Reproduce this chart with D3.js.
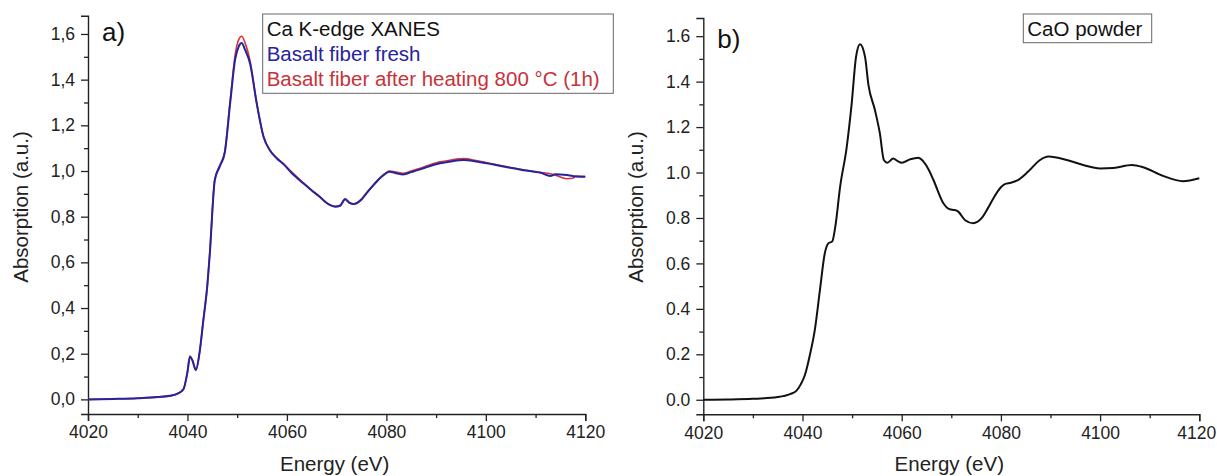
<!DOCTYPE html>
<html>
<head>
<meta charset="utf-8">
<script src="https://cdn.jsdelivr.net/npm/d3@7"></script>
<style>
  body { margin: 0; background: #fff; }
  svg { font-family: "Liberation Sans", Arial, sans-serif; }
</style>
</head>
<body>
<svg id="chart" width="1217" height="476"></svg>
<script>
// Panel a: Ca K-edge XANES of basalt fibers
const energyA = [4020, 4025, 4030, 4034, 4036.5, 4038, 4039.2, 4040, 4040.5, 4041, 4041.7, 4042.4, 4043.2, 4044, 4044.5,
  4045.5, 4046.5, 4047.5, 4048.6, 4049.6, 4050.3, 4050.9, 4051.6, 4052.6, 4053.9, 4055.3, 4056.6, 4058, 4059.3, 4061,
  4063.3, 4065, 4066.6, 4068, 4069.7, 4070.7, 4071.7, 4072.5, 4073.4, 4075, 4076, 4077.5, 4078.7, 4080.7, 4082, 4083.4,
  4085, 4086.8, 4088.5, 4090.8, 4093, 4095.5, 4098, 4100.2, 4103, 4105.5, 4108, 4110.9, 4113, 4114, 4116.3, 4117.5, 4118, 4120];
const fresh = [0.0, 0.002, 0.005, 0.01, 0.016, 0.025, 0.045, 0.12, 0.187, 0.17, 0.128, 0.2, 0.347, 0.5, 0.64,
  0.96, 1.02, 1.08, 1.30, 1.49, 1.545, 1.56, 1.53, 1.47, 1.30, 1.15, 1.09, 1.055, 1.03, 0.99,
  0.946, 0.915, 0.887, 0.86, 0.844, 0.848, 0.876, 0.862, 0.855, 0.875, 0.902, 0.94, 0.968, 0.997, 0.99, 0.985,
  0.995, 1.007, 1.02, 1.034, 1.042, 1.048, 1.042, 1.034, 1.022, 1.012, 1.002, 0.993, 0.978, 0.986, 0.982, 0.978, 0.976, 0.975];
const heated = [0.0, 0.002, 0.005, 0.01, 0.016, 0.025, 0.045, 0.12, 0.19, 0.172, 0.13, 0.2, 0.35, 0.5, 0.645,
  0.965, 1.025, 1.085, 1.31, 1.51, 1.575, 1.59, 1.56, 1.48, 1.30, 1.15, 1.09, 1.055, 1.032, 0.995,
  0.948, 0.915, 0.887, 0.86, 0.845, 0.85, 0.878, 0.862, 0.856, 0.877, 0.905, 0.942, 0.97, 1.0, 0.995, 0.99,
  1.0, 1.012, 1.025, 1.04, 1.048, 1.054, 1.046, 1.036, 1.024, 1.013, 1.003, 0.994, 0.988, 0.982, 0.966, 0.968, 0.978, 0.976];
const legendA = ['Ca K-edge XANES', 'Basalt fiber fresh', 'Basalt fiber after heating 800 °C (1h)'];

// Panel b: CaO powder reference
const energyB = [4020, 4025, 4030, 4035, 4037.5, 4038.8, 4039.7, 4040.5, 4041.5, 4042.5, 4043.5, 4044.5, 4045.2, 4046,
  4046.6, 4047.6, 4048.9, 4049.9, 4050.8, 4051.6, 4052.6, 4053.3, 4054.6, 4055.6, 4056.4, 4057.1, 4058.3, 4059.2, 4060,
  4061.7, 4063.3, 4064.4, 4065.5, 4066.4, 4068.4, 4069.7, 4070.7, 4071.4, 4072.8, 4074.4, 4076.1, 4077.3, 4078.5, 4080,
  4080.8, 4082, 4083.2, 4085.5, 4087.9, 4089.6, 4093.3, 4096.6, 4100, 4102.7, 4106.4, 4108.7, 4112.7, 4116.7, 4120];
const caoPowder = [0, 0.001, 0.004, 0.012, 0.025, 0.04, 0.07, 0.11, 0.198, 0.31, 0.48, 0.645, 0.688, 0.697,
  0.76, 0.94, 1.11, 1.30, 1.51, 1.565, 1.51, 1.385, 1.275, 1.172, 1.055, 1.043, 1.062, 1.05, 1.043,
  1.058, 1.065, 1.048, 1.01, 0.967, 0.865, 0.838, 0.835, 0.828, 0.79, 0.777, 0.799, 0.84, 0.887, 0.935,
  0.949, 0.955, 0.964, 1.004, 1.055, 1.07, 1.055, 1.033, 1.018, 1.02, 1.033, 1.023, 0.985, 0.962, 0.975];
const legendB = ['CaO powder'];

const xTicks = [4020, 4040, 4060, 4080, 4100, 4120];
const xMinor = [4030, 4050, 4070, 4090, 4110];
const yTicks = [0, 0.2, 0.4, 0.6, 0.8, 1.0, 1.2, 1.4, 1.6];
const yMinor = [0.1, 0.3, 0.5, 0.7, 0.9, 1.1, 1.3, 1.5];

const svg = d3.select('#chart');
const svgWidth = 1217;

function drawPanel(opts) {
  const x = d3.scaleLinear().domain([4020, 4120]).range(opts.xRange);
  const y = d3.scaleLinear().domain([-0.064, 1.68]).range(opts.yRange);
  const g = svg.append('g');
  const comma = opts.comma;
  const fmt = d => {
    const s = d3.format('.1f')(d);
    return comma ? s.replace('.', ',') : s;
  };

  // minor ticks
  g.append('g').attr('transform', `translate(0,${opts.yRange[0]})`)
    .call(d3.axisBottom(x).tickValues(xMinor).tickSize(4).tickFormat(''))
    .call(a => a.select('.domain').remove());
  g.append('g').attr('transform', `translate(${opts.xRange[0]},0)`)
    .call(d3.axisLeft(y).tickValues(yMinor).tickSize(4).tickFormat(''))
    .call(a => a.select('.domain').remove());

  // major axes
  const xAxis = g.append('g').attr('transform', `translate(0,${opts.yRange[0]})`)
    .call(d3.axisBottom(x).tickValues(xTicks).tickSizeOuter(0).tickSize(7).tickPadding(5).tickFormat(d3.format('d')));
  const yAxis = g.append('g').attr('transform', `translate(${opts.xRange[0]},0)`)
    .call(d3.axisLeft(y).tickValues(yTicks).tickSizeOuter(0).tickSize(7).tickPadding(6).tickFormat(fmt));
  [xAxis, yAxis].forEach(a => {
    a.selectAll('text').attr('font-size', 17.5).attr('fill', '#222');
    a.select('.domain').attr('stroke', '#222').attr('stroke-width', 1.4);
  });
  g.selectAll('line').attr('stroke', '#222').attr('stroke-width', 1.3);

  // keep the last tick label inside the page
  xAxis.selectAll('.tick text').each(function() {
    const box = this.getBBox();
    const tickX = x(+d3.select(this.parentNode).datum());
    const right = tickX + box.x + box.width;
    if (right > svgWidth - 1) d3.select(this).attr('dx', svgWidth - 1 - right);
  });

  // axis titles
  g.append('text')
    .attr('x', (opts.xRange[0] + opts.xRange[1]) / 2 - 2)
    .attr('y', 471)
    .attr('text-anchor', 'middle')
    .attr('font-size', 20.5)
    .attr('fill', '#222')
    .text('Energy (eV)');
  g.append('text')
    .attr('transform', `translate(${opts.yLabelX},207) rotate(-90)`)
    .attr('text-anchor', 'middle')
    .attr('font-size', 20.5)
    .attr('fill', '#222')
    .text('Absorption (a.u.)');

  // panel letter
  g.append('text')
    .attr('x', opts.xRange[0] + 14)
    .attr('y', opts.letterY)
    .attr('font-size', 26)
    .attr('fill', '#111')
    .text(opts.letter);

  // curves
  opts.series.forEach(s => {
    const pts = opts.energy.map((e, i) => [e, s.values[i]]);
    g.append('path')
      .datum(pts)
      .attr('fill', 'none')
      .attr('stroke', s.color)
      .attr('stroke-width', s.width)
      .attr('stroke-linejoin', 'round')
      .attr('d', d3.line().x(d => x(d[0])).y(d => y(d[1])).curve(d3.curveMonotoneX));
  });

  // legend
  const lg = g.append('g');
  lg.append('rect')
    .attr('x', opts.legend.x).attr('y', opts.legend.y)
    .attr('width', opts.legend.w).attr('height', opts.legend.h)
    .attr('fill', '#fff').attr('stroke', '#666').attr('stroke-width', 1);
  opts.legend.items.forEach((t, i) => {
    lg.append('text')
      .attr('x', opts.legend.x + 4)
      .attr('y', opts.legend.y + 22 + i * 25)
      .attr('font-size', 20.5)
      .attr('fill', opts.legend.colors[i])
      .text(t);
  });
}

drawPanel({
  xRange: [88, 585.3], yRange: [414, 15.7], comma: true,
  yLabelX: 28, letter: 'a)', letterY: 41,
  energy: energyA,
  series: [
    { values: heated, color: '#d6343a', width: 1.6 },
    { values: fresh, color: '#27239c', width: 2 }
  ],
  legend: { x: 262.7, y: 14, w: 350.6, h: 79.3, items: legendA, colors: ['#111', '#27239c', '#c8323a'] }
});

drawPanel({
  xRange: [703.3, 1199.3], yRange: [414.3, 18], comma: false,
  yLabelX: 643, letter: 'b)', letterY: 48,
  energy: energyB,
  series: [ { values: caoPowder, color: '#111', width: 2 } ],
  legend: { x: 1023.3, y: 14, w: 128.4, h: 28.7, items: legendB, colors: ['#111'] }
});
</script>
</body>
</html>
